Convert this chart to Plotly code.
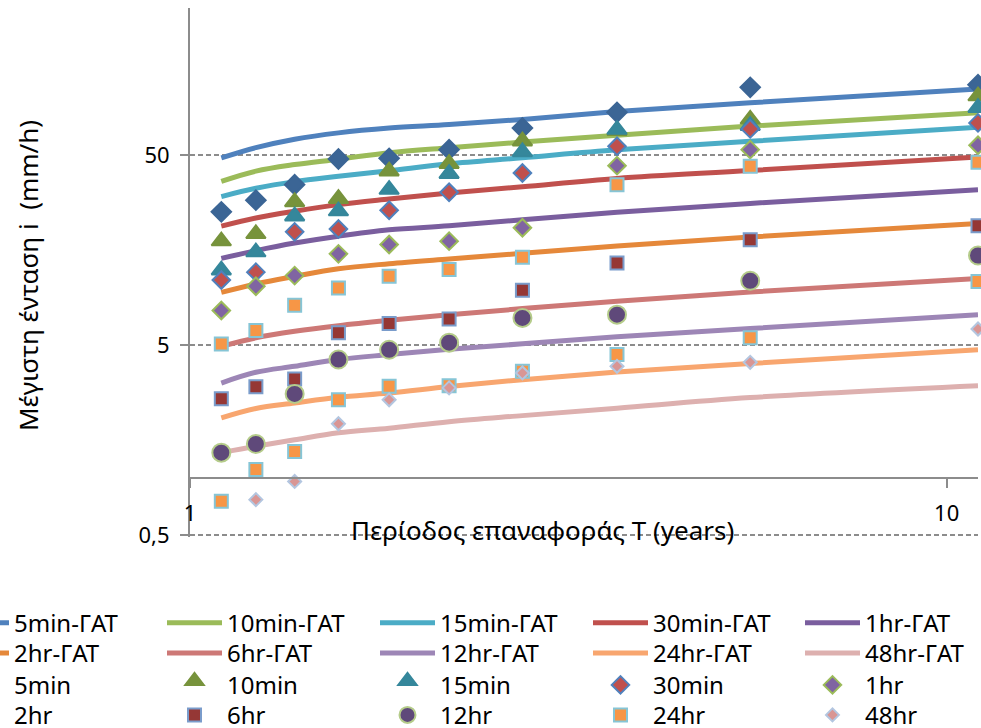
import numpy as np
import plotly.graph_objects as go

# ---------------- data ----------------
T = [1.1, 1.222, 1.375, 1.571, 1.833, 2.2, 2.75, 3.667, 5.5, 11.0]
durations = ["5min", "10min", "15min", "30min", "1hr", "2hr", "6hr", "12hr", "24hr", "48hr"]

gat_5min = [48.2, 54.6, 60.5, 65.3, 69.2, 72.2, 76.8, 84.5, 94.0, 111.2]
gat_10min = [36.3, 41.1, 44.5, 47.5, 51.4, 54.6, 58.4, 63.5, 70.9, 83.2]
gat_15min = [30.2, 33.4, 36.2, 38.6, 41.3, 44.9, 48.3, 53.2, 59.0, 69.8]
gat_30min = [21.1, 23.3, 25.3, 27.4, 29.3, 31.5, 34.0, 37.6, 41.4, 48.8]
gat_1hr = [14.3, 15.7, 17.2, 18.7, 20.2, 21.2, 22.8, 25.0, 27.8, 32.8]
gat_2hr = [9.47, 10.5, 11.5, 12.6, 13.4, 14.2, 15.2, 16.6, 18.5, 21.8]
gat_6hr = [4.93, 5.46, 5.91, 6.33, 6.75, 7.23, 7.78, 8.51, 9.51, 11.2]
gat_12hr = [3.16, 3.60, 3.87, 4.20, 4.46, 4.76, 5.08, 5.53, 6.11, 7.23]
gat_24hr = [2.07, 2.32, 2.48, 2.66, 2.80, 3.03, 3.29, 3.61, 4.00, 4.73]
gat_48hr = [1.36, 1.47, 1.59, 1.73, 1.83, 1.98, 2.13, 2.33, 2.65, 3.06]

obs_5min = [25.1, 28.9, 34.9, 47.6, 48.0, 53.3, 69.3, 83.7, 113.4, 117.1]
obs_10min = [18.5, 20.2, 29.7, 30.9, 43.1, 47.2, 62.0, 70.4, 80.8, 107.0]
obs_15min = [13.0, 16.2, 25.0, 26.6, 34.5, 41.8, 54.4, 71.3, 74.8, 93.0]
obs_30min = [11.0, 12.1, 19.7, 20.4, 25.6, 31.8, 40.2, 55.5, 68.5, 73.7]
obs_1hr = [7.6, 10.2, 11.6, 15.1, 16.9, 17.6, 20.7, 43.9, 53.3, 56.2]
obs_2hr = [5.07, 5.96, 8.1, 10.0, 11.5, 12.5, 14.5, 34.9, 43.6, 45.7]
obs_6hr = [2.61, 3.02, 3.32, 5.80, 6.49, 6.87, 9.71, 13.5, 17.9, 21.2]
obs_12hr = [1.36, 1.51, 2.77, 4.20, 4.73, 5.15, 6.95, 7.23, 10.9, 14.8]
obs_24hr = [0.755, 1.11, 1.38, 2.58, 3.04, 3.06, 3.64, 4.46, 5.46, 10.8]
obs_48hr = [None, 0.77, 0.96, 1.93, 2.58, 2.98, 3.57, 3.87, 4.06, 6.08]

gat_series = [gat_5min, gat_10min, gat_15min, gat_30min, gat_1hr,
              gat_2hr, gat_6hr, gat_12hr, gat_24hr, gat_48hr]
obs_series = [obs_5min, obs_10min, obs_15min, obs_30min, obs_1hr,
              obs_2hr, obs_6hr, obs_12hr, obs_24hr, obs_48hr]

x_ticks = [1, 10]
x_ticktext = ["1", "10"]
y_ticks = [0.5, 5, 50]
y_ticktext = ["0,5", "5", "50"]

# ---------------- styles ----------------
line_colors = ["#4F81BD", "#9BBB59", "#4BACC6", "#C0504D", "#7A5E9E",
               "#E5883A", "#CD7876", "#9D86B6", "#F8A66F", "#DDB0AF"]
mk_symbols = ["diamond", "triangle-up", "triangle-up", "diamond", "diamond",
              "square", "square", "circle", "square", "diamond"]
mk_fill = ["#3B6595", "#77933C", "#35879B", "#C0504D", "#8064A2",
           "#F79646", "#953735", "#5F497A", "#F79646", "#D99694"]
mk_line = ["#3B6595", "#77933C", "#35879B", "#4F81BD", "#9BBB59",
           "#86C5D6", "#7A9CCB", "#B5CC8A", "#86C5D6", "#B3C6E0"]
mk_size = [15, 17, 17, 13.5, 13.5, 13, 13, 18, 13, 10]
mk_standoff = [0, 4, 4, 0, 0, 0, 0, 0, 0, 0]

FONT = "Noto Sans, Open Sans, DejaVu Sans, sans-serif"
W, H = 981, 728
ML, MR, MT, MB = 190, 3, 8, 191
PW, PH = W - ML - MR, H - MT - MB

y_lo = np.log10(0.49)
y_hi = y_lo + PH / 190.2
x_lo, x_hi = np.log10(1.0), np.log10(11.0)
x_axis_pos = (np.log10(1.0) - y_lo) / (y_hi - y_lo)


def px_x(px):
    return (px - ML) / PW


def px_y(py):
    return 1 - (py - MT) / PH


# legend grid: 5 columns x 4 rows (lines row 1-2, markers row 3-4)
col_text_x = [16, 229, 442, 655, 867]
row_center_y = [621.7, 652.0, 683.8, 713.8]
LEG_FONT = 24

fig = go.Figure()
legends = {}
k = 0
for i, d in enumerate(durations):
    k += 1
    lname = "legend" if k == 1 else "legend%d" % k
    fig.add_trace(go.Scatter(
        x=T, y=gat_series[i], mode="lines", name=d + "-ΓAT",
        line=dict(color=line_colors[i], width=5, shape="spline"),
        legend=lname, hoverinfo="skip"))
    legends[lname] = (i % 5, i // 5)
for i, d in enumerate(durations):
    k += 1
    lname = "legend%d" % k
    fig.add_trace(go.Scatter(
        x=T, y=obs_series[i], mode="markers", name=d, cliponaxis=False,
        marker=dict(symbol=mk_symbols[i], size=mk_size[i], color=mk_fill[i],
                    standoff=mk_standoff[i],
                    line=dict(color=mk_line[i], width=2)),
        legend=lname, hoverinfo="skip"))
    legends[lname] = (i % 5, 2 + i // 5)

layout_legends = {}
for lname, (c, r) in legends.items():
    layout_legends[lname] = dict(
        orientation="v", xanchor="left", yanchor="top",
        x=px_x(col_text_x[c] - 67), y=px_y(row_center_y[r] - 21),
        font=dict(family=FONT, size=LEG_FONT, color="black"),
        itemwidth=55, bgcolor="rgba(0,0,0,0)", borderwidth=0)

fig.update_layout(
    width=W, height=H,
    margin=dict(l=ML, r=MR, t=MT, b=MB, autoexpand=False),
    paper_bgcolor="white", plot_bgcolor="white",
    font=dict(family=FONT, size=22, color="black"),
    showlegend=True,
    xaxis=dict(type="log", range=[x_lo, x_hi], tickvals=x_ticks, ticktext=x_ticktext,
               showgrid=False, zeroline=False, showline=True, linecolor="#8C8C8C",
               linewidth=2, ticks="outside", ticklen=9, tickwidth=2, tickcolor="#8C8C8C",
               anchor="free", position=x_axis_pos, ticklabelstandoff=7,
               tickfont=dict(family=FONT, size=22, color="black")),
    yaxis=dict(type="log", range=[y_lo, y_hi], tickvals=y_ticks, ticktext=y_ticktext,
               showgrid=True, gridcolor="#8C8C8C", gridwidth=1.5, griddash="5px,3px",
               zeroline=False, showline=True, linecolor="#8C8C8C", linewidth=2,
               ticks="outside", ticklen=8, tickwidth=1.5, tickcolor="#8C8C8C",
               ticklabelstandoff=6,
               tickfont=dict(family=FONT, size=22, color="black")),
    annotations=[
        dict(text="Μέγιστη ένταση i \u00a0(mm/h)", xref="paper", yref="paper",
             x=px_x(28), y=px_y(276), textangle=-90, showarrow=False,
             xanchor="center", yanchor="middle",
             font=dict(family=FONT, size=26, color="black")),
        dict(text="Περίοδος επαναφοράς T (years)", xref="paper", yref="paper",
             x=px_x(542), y=px_y(530), showarrow=False,
             xanchor="center", yanchor="middle",
             font=dict(family=FONT, size=26, color="black")),
    ],
    **layout_legends,
)

fig.write_html("out.html",
               config={"displayModeBar": False},
               post_script="document.body.style.margin='0px';document.body.style.overflow='hidden';")
